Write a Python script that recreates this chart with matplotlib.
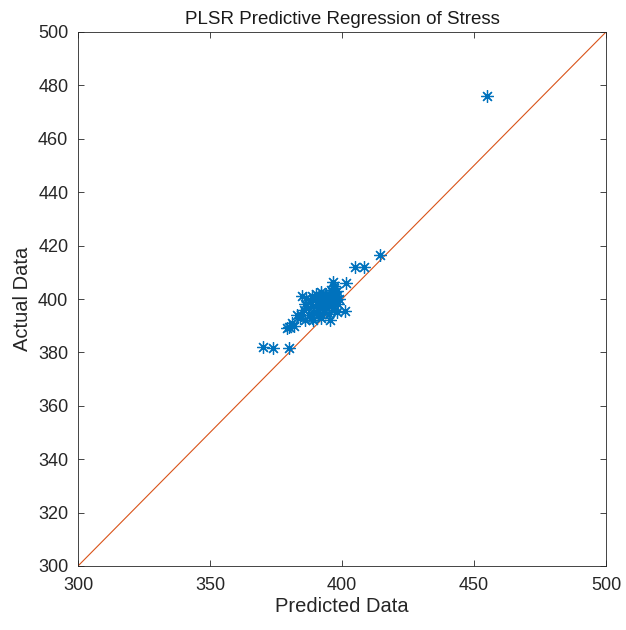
import matplotlib.pyplot as plt
import numpy as np

plt.rcParams['font.family'] = ['Liberation Sans', 'DejaVu Sans']

# predicted (x) vs actual (y) values
predicted = [455, 414.5, 405, 408.5, 396.5, 401.5, 397, 395,
             401, 398, 395.5, 392, 389, 386, 384, 383, 381, 379, 380, 382,
             370, 374, 380,
             385, 386.5, 386, 387, 388, 388.5, 389, 390, 390.5, 391, 391.5,
             392, 392.5, 393, 393.5, 394, 394.5, 395, 395.5, 396, 396.5,
             397, 397.5, 398, 398.5, 399, 389.5, 391, 393, 395, 397, 387.5,
             388.5, 385.5, 384.5, 390, 392, 394, 396, 398, 397]
actual = [476, 416.5, 412, 412, 406.5, 406, 404, 402,
          395.5, 395, 392, 393, 392, 392, 393, 394, 391, 389, 389.5, 390,
          382, 381.5, 381.5,
          401, 400.5, 398, 396.5, 399, 401, 397.5, 400, 398, 396, 401,
          399, 397, 400.5, 398.5, 396.5, 400, 401.5, 399, 397.5, 400.5,
          402.5, 399.5, 401, 398, 400, 395, 394, 395, 394.5, 396, 394,
          393, 396, 394, 402, 402.5, 402, 403.5, 403, 405]
line_x = [300, 500]

fig = plt.figure(figsize=(6.26, 6.30), dpi=100)
ax = fig.add_axes([78/626, 64/630, 528/626, 534/630])

ax.plot(line_x, line_x, color='#D95319', lw=0.8)
ax.plot(predicted, actual, marker=(8, 2, 0), color='#0072BD', ms=9, mew=0.9, ls='none')

ax.set_xlim(300, 500)
ax.set_ylim(300, 500)
ax.set_xticks(np.arange(300, 501, 50))
ax.set_yticks(np.arange(300, 501, 20))
ax.tick_params(direction='in', top=True, right=True, length=4, width=0.6,
               colors='#262626', labelsize=13)
ax.tick_params(axis='x', pad=8)
ax.tick_params(axis='y', pad=7)
for s in ax.spines.values():
    s.set_color('#262626')
    s.set_linewidth(0.6)

ax.set_title('PLSR Predictive Regression of Stress', fontsize=13.5, color='#1a1a1a', pad=6)
ax.set_xlabel('Predicted Data', fontsize=14.5, color='#262626', labelpad=2)
ax.set_ylabel('Actual Data', fontsize=14.5, color='#262626', labelpad=4)

fig.savefig('out.png', dpi=100)
